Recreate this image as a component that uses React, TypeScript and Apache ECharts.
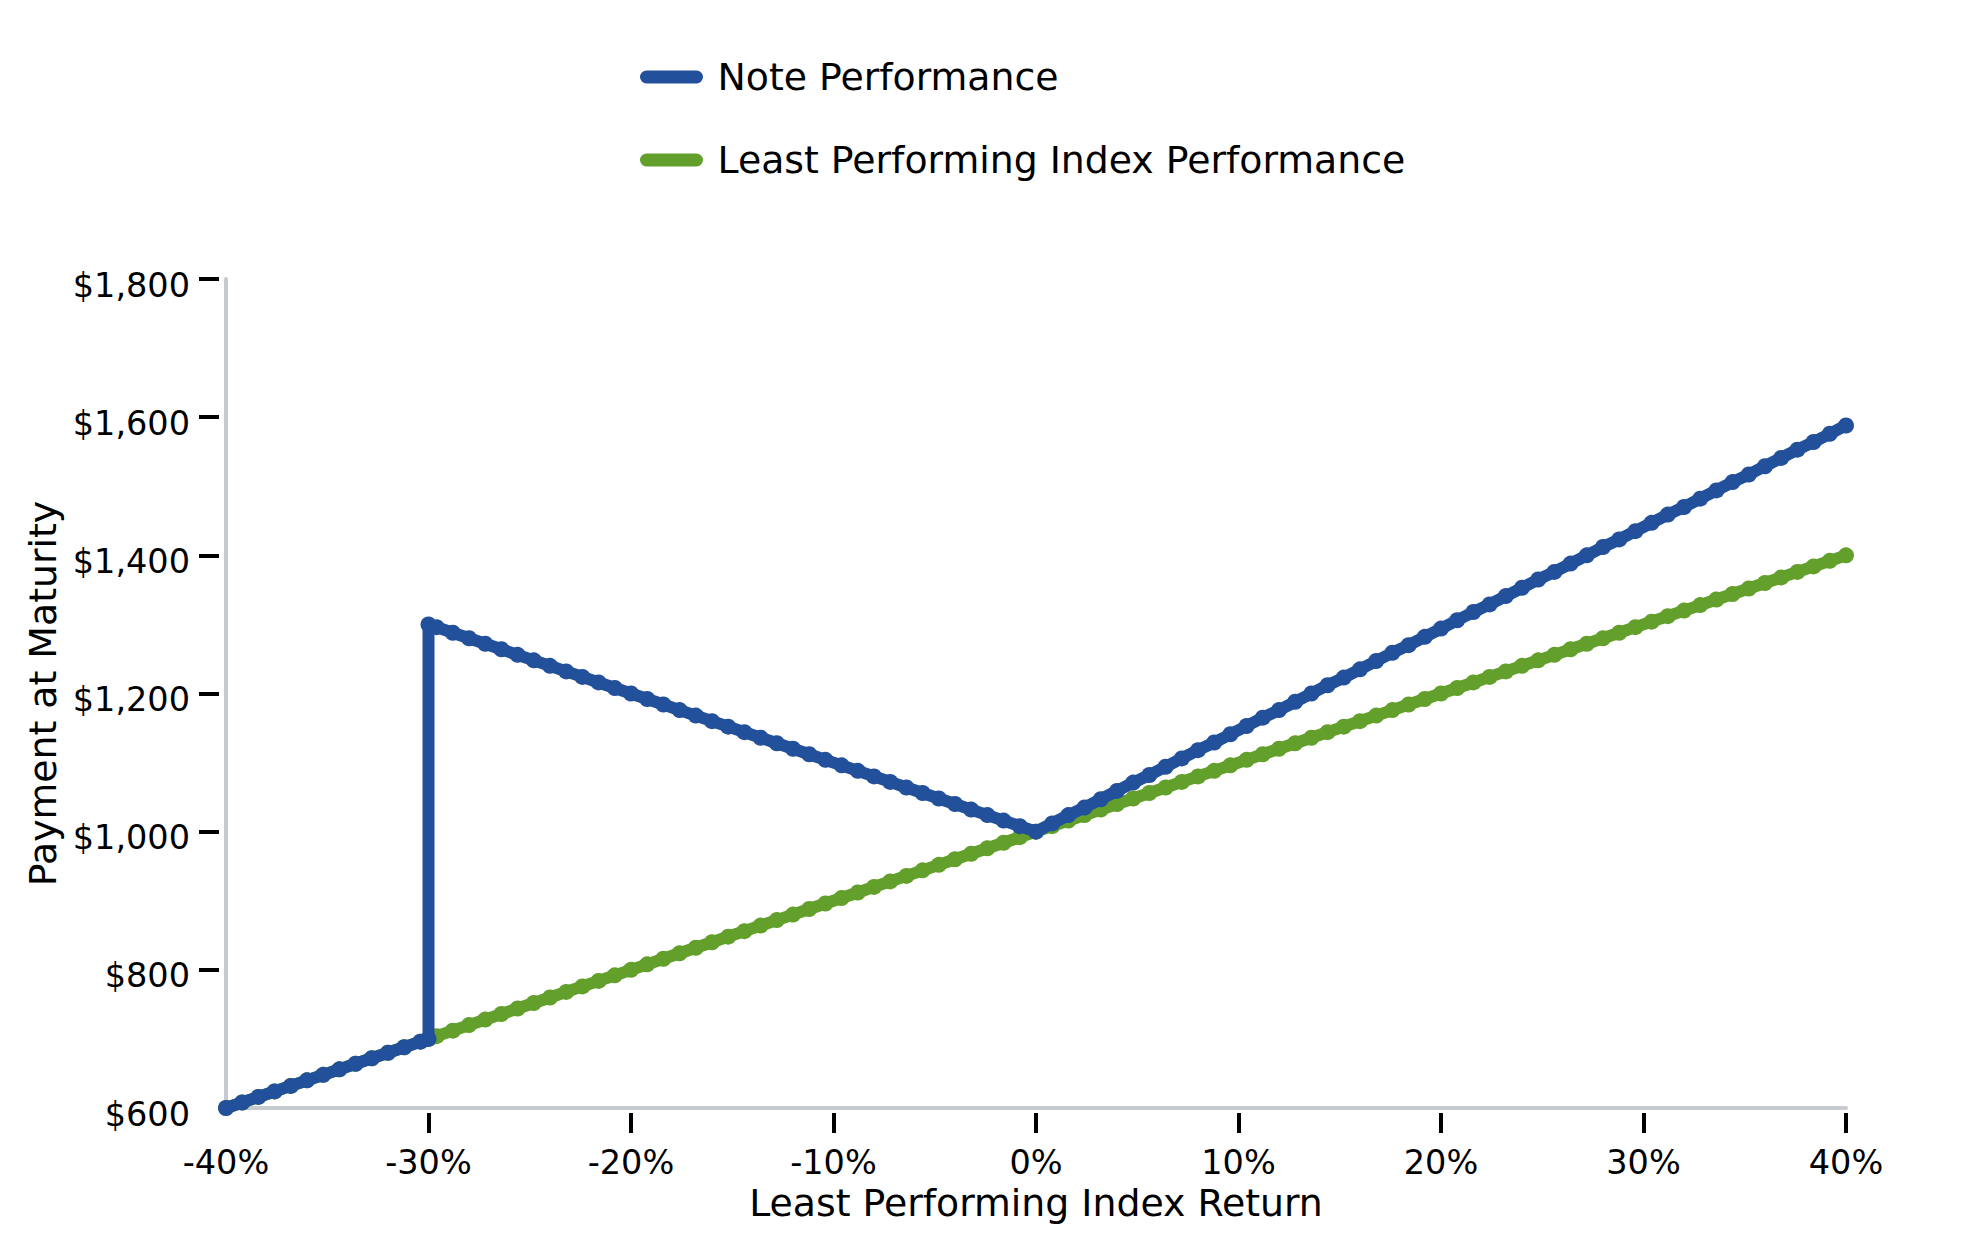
import React, { useEffect, useRef } from "react";
import * as echarts from "echarts";

const seriesNames = ["Note Performance", "Least Performing Index Performance"];

const returns = [
  -40, -39.2, -38.4, -37.6, -36.8, -36, -35.2, -34.4, -33.6, -32.8, -32, -31.2, -30.4,
  -30, -30,
  -29.6, -28.8, -28, -27.2, -26.4, -25.6, -24.8, -24, -23.2, -22.4, -21.6, -20.8, -20,
  -19.2, -18.4, -17.6, -16.8, -16, -15.2, -14.4, -13.6, -12.8, -12, -11.2, -10.4, -9.6,
  -8.8, -8, -7.2, -6.4, -5.6, -4.8, -4, -3.2, -2.4, -1.6, -0.8,
  0, 0.8, 1.6, 2.4, 3.2, 4, 4.8, 5.6, 6.4, 7.2, 8, 8.8, 9.6, 10.4, 11.2, 12, 12.8, 13.6,
  14.4, 15.2, 16, 16.8, 17.6, 18.4, 19.2, 20, 20.8, 21.6, 22.4, 23.2, 24, 24.8, 25.6,
  26.4, 27.2, 28, 28.8, 29.6, 30.4, 31.2, 32, 32.8, 33.6, 34.4, 35.2, 36, 36.8, 37.6,
  38.4, 39.2, 40,
];

const notePayments = [
  600, 608, 616, 624, 632, 640, 648, 656, 664, 672, 680, 688, 696,
  700, 1300,
  1296, 1288, 1280, 1272, 1264, 1256, 1248, 1240, 1232, 1224, 1216, 1208, 1200,
  1192, 1184, 1176, 1168, 1160, 1152, 1144, 1136, 1128, 1120, 1112, 1104, 1096,
  1088, 1080, 1072, 1064, 1056, 1048, 1040, 1032, 1024, 1016, 1008,
  1000, 1012, 1024, 1035, 1047, 1059, 1071, 1082, 1094, 1106, 1118, 1129, 1141, 1153,
  1165, 1176, 1188, 1200, 1212, 1223, 1235, 1247, 1259, 1270, 1282, 1294, 1306, 1318,
  1329, 1341, 1353, 1365, 1376, 1388, 1400, 1412, 1423, 1435, 1447, 1459, 1470, 1482,
  1494, 1506, 1517, 1529, 1541, 1553, 1564, 1576, 1588,
];

const indexPayments = [
  600, 608, 616, 624, 632, 640, 648, 656, 664, 672, 680, 688, 696,
  700, 700,
  704, 712, 720, 728, 736, 744, 752, 760, 768, 776, 784, 792, 800,
  808, 816, 824, 832, 840, 848, 856, 864, 872, 880, 888, 896, 904,
  912, 920, 928, 936, 944, 952, 960, 968, 976, 984, 992,
  1000, 1008, 1016, 1024, 1032, 1040, 1048, 1056, 1064, 1072, 1080, 1088, 1096, 1104,
  1112, 1120, 1128, 1136, 1144, 1152, 1160, 1168, 1176, 1184, 1192, 1200, 1208, 1216,
  1224, 1232, 1240, 1248, 1256, 1264, 1272, 1280, 1288, 1296, 1304, 1312, 1320, 1328,
  1336, 1344, 1352, 1360, 1368, 1376, 1384, 1392, 1400,
];

const xTickValues = [-30, -20, -10, 0, 10, 20, 30, 40];
const yTickValues = [800, 1000, 1200, 1400, 1600, 1800];

const BLUE = "#22509A";
const GREEN = "#62A02B";
const FONT = "DejaVu Sans";

export default function App() {
  const ref = useRef<HTMLDivElement>(null);

  useEffect(() => {
    if (!ref.current) return;
    const chart = echarts.init(ref.current, undefined, { renderer: "svg" });
    const pill = "path://M6.5,0 L56.5,0 A6.5,6.5 0 0 1 56.5,13 L6.5,13 A6.5,6.5 0 0 1 6.5,0 Z";
    chart.setOption({
      animation: false,
      backgroundColor: "#ffffff",
      textStyle: { fontFamily: FONT },
      grid: { left: 226, right: 133, top: 279, bottom: 142, containLabel: false },
      legend: {
        orient: "vertical",
        left: 635,
        top: 53,
        itemGap: 45,
        itemWidth: 64,
        itemHeight: 13,
        data: [
          { name: seriesNames[0], icon: pill },
          { name: seriesNames[1], icon: pill },
        ],
        textStyle: { fontFamily: FONT, fontSize: 37.8, color: "#000", padding: [0, 0, 0, 9] },
      },
      xAxis: [
        {
          type: "value",
          min: -40,
          max: 40,
          interval: 10,
          position: "bottom",
          offset: 5,
          axisLine: { show: false, onZero: false },
          axisTick: {
            show: true,
            length: 20,
            customValues: xTickValues,
            lineStyle: { color: "#000", width: 4 },
          },
          axisLabel: {
            margin: 32,
            fontSize: 33.5,
            color: "#000",
            fontFamily: FONT,
            formatter: (v: number) => `${v}%`,
          },
          splitLine: { show: false },
          name: "Least Performing Index Return",
          nameLocation: "middle",
          nameGap: 70,
          nameTextStyle: { fontSize: 37.8, color: "#000", fontFamily: FONT },
        },
        {
          type: "value",
          min: -40,
          max: 40,
          interval: 10,
          position: "bottom",
          offset: 0,
          axisLine: { show: true, onZero: false, lineStyle: { color: "#C7CBD0", width: 4 } },
          axisTick: { show: false },
          axisLabel: { show: false },
          splitLine: { show: false },
        },
      ],
      yAxis: [
        {
          type: "value",
          min: 600,
          max: 1800,
          interval: 200,
          position: "left",
          offset: 7,
          axisLine: { show: false, onZero: false },
          axisTick: {
            show: true,
            length: 20,
            customValues: yTickValues,
            lineStyle: { color: "#000", width: 4 },
          },
          axisLabel: {
            margin: 29,
            fontSize: 33.5,
            color: "#000",
            fontFamily: FONT,
            verticalAlign: "top",
            lineHeight: 12,
            formatter: (v: number) => `$${v.toLocaleString("en-US")}`,
          },
          splitLine: { show: false },
          name: "Payment at Maturity",
          nameLocation: "middle",
          nameGap: 151,
          nameRotate: 90,
          nameTextStyle: { fontSize: 37.8, color: "#000", fontFamily: FONT },
        },
        {
          type: "value",
          min: 600,
          max: 1800,
          interval: 200,
          position: "left",
          offset: 0,
          axisLine: { show: true, onZero: false, lineStyle: { color: "#C7CBD0", width: 4 } },
          axisTick: { show: false },
          axisLabel: { show: false },
          splitLine: { show: false },
        },
      ],
      series: [
        {
          name: seriesNames[1],
          type: "line",
          xAxisIndex: 0,
          yAxisIndex: 0,
          z: 2,
          data: returns.map((r, i) => [r, indexPayments[i]]),
          symbol: "circle",
          symbolSize: 16,
          showAllSymbol: true,
          lineStyle: { color: GREEN, width: 12 },
          itemStyle: { color: GREEN },
          emphasis: { disabled: true },
        },
        {
          name: seriesNames[0],
          type: "line",
          xAxisIndex: 0,
          yAxisIndex: 0,
          z: 3,
          data: returns.map((r, i) => [r, notePayments[i]]),
          symbol: "circle",
          symbolSize: 16,
          showAllSymbol: true,
          lineStyle: { color: BLUE, width: 12 },
          itemStyle: { color: BLUE },
          emphasis: { disabled: true },
        },
      ],
    });
    return () => chart.dispose();
  }, []);

  return (
    <div
      ref={ref}
      style={{ position: "fixed", left: 0, top: 0, width: 1979, height: 1250, background: "#fff" }}
    />
  );
}
